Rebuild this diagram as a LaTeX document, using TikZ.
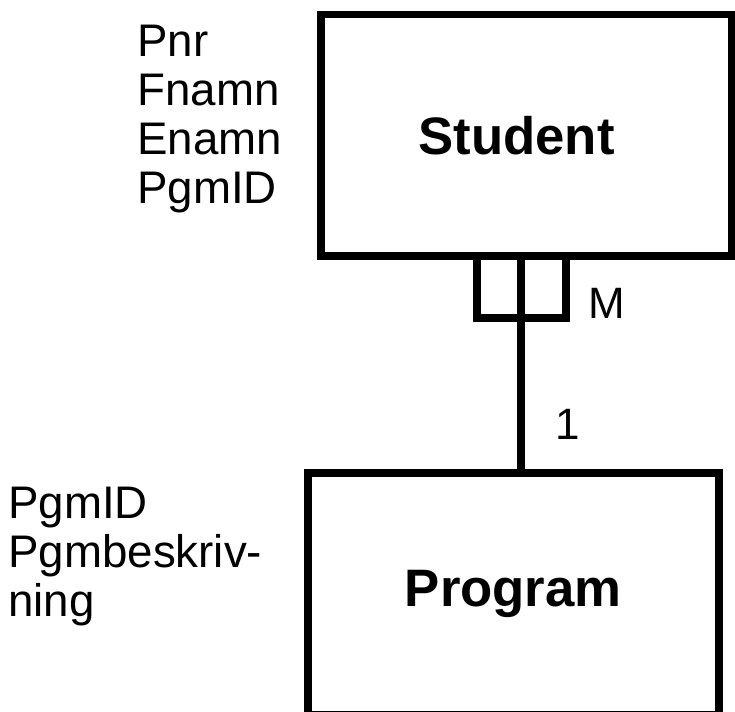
\documentclass[tikz,border=0pt]{standalone}
\usepackage{fontspec}
\setmainfont{Liberation Sans}

\begin{document}
\begin{tikzpicture}[x=0.02cm, y=-0.02cm,
    entity/.style={draw, line width=4.5pt, outer sep=0pt, minimum width=8.22cm, minimum height=4.83cm, font=\fontsize{30}{34}\selectfont\bfseries},
    attrs/.style={align=left, inner sep=0pt, anchor=north west, font=\fontsize{26}{27.8}\selectfont},
    card/.style={inner sep=0pt, anchor=base west, font=\fontsize{25}{28}\selectfont},
    link/.style={line width=4pt}]
    \useasboundingbox (0,0) rectangle (735,712);

    % Student block
    \node[entity] (stu) at (526.5,135.25) {Student\hspace*{0.4cm}};

    % Program block
    \node[entity] (prog) at (513.25,594) {Program};

    % Attributes
    \node[attrs] (stuattr) at (137,25) {Pnr\\Fnamn\\Enamn\\PgmID};
    \node[attrs] (progattr) at (8,487) {PgmID\\Pgmbeskriv-\\ning};

    % Connection (M : 1)
    \coordinate (forkL) at (477,318);
    \coordinate (forkM) at (521,318);
    \coordinate (forkR) at (566,318);
    \draw[link] (stu.south -| forkL) -- (forkL) -- (forkR) -- (stu.south -| forkR);
    \draw[link] (stu.south -| forkM) -- (prog.north -| forkM);
    \node[card] (many) at (588,319) {M};
    \node[card] (one) at (555,440) {1};
\end{tikzpicture}
\end{document}
